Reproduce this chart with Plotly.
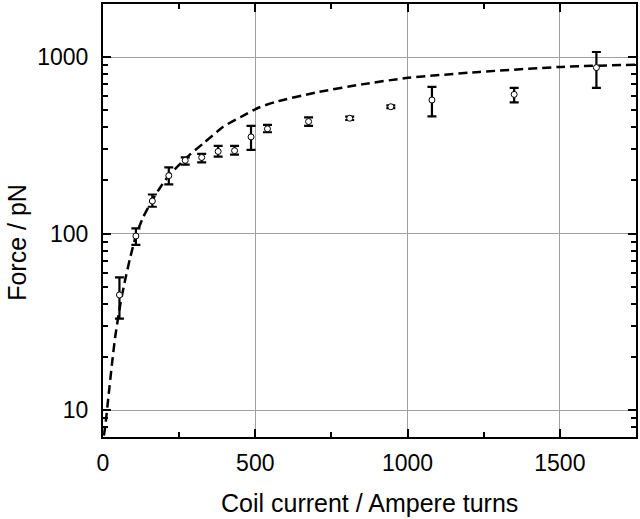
import plotly.graph_objects as go

# Measured data (coil current in ampere turns, force in pN)
current = [54, 108, 162, 216, 270, 324, 378, 432, 486, 540, 675, 810, 945, 1080, 1350, 1620]
force = [45, 97, 153, 213, 260, 270, 292, 295, 353, 392, 431, 450, 523, 571, 614, 871]
force_upper = [56.6, 107, 166.6, 237, 270, 283, 314, 314, 407, 413, 455, 460, 533, 678, 669, 1067]
force_lower = [33.0, 86.4, 142, 190, 246, 253, 273, 280, 298, 375, 407, 440, 513, 461, 553, 669]

# Model curve (dashed)
model_current = [3, 8, 18, 29, 40, 57, 73, 90, 108, 130, 162, 190, 216, 250, 285, 330, 395,
                 461, 510, 570, 700, 850, 1001, 1236, 1504, 1750]
model_force = [7.2, 8.3, 12, 18, 26, 40, 55, 74, 97, 122, 155, 185, 213, 245, 280, 325, 403,
               466, 516, 559, 630, 700, 762, 823, 879, 905]

x_ticks = [0, 500, 1000, 1500]
y_ticks = [10, 100, 1000]

err_plus = [u - f for u, f in zip(force_upper, force)]
err_minus = [f - l for f, l in zip(force, force_lower)]

fig = go.Figure()
fig.add_trace(go.Scatter(
    x=model_current, y=model_force, mode="lines",
    line=dict(color="black", width=2.5, dash="9px,5px", shape="spline", smoothing=0.6),
    showlegend=False, hoverinfo="skip",
))
fig.add_trace(go.Scatter(
    x=current, y=force, mode="markers",
    marker=dict(symbol="circle", size=6, color="white", line=dict(color="black", width=1)),
    error_y=dict(type="data", symmetric=False, array=err_plus, arrayminus=err_minus,
                 color="black", thickness=2.2, width=4.5),
    showlegend=False,
))

font_family = "Liberation Sans, Arial, sans-serif"

fig.update_layout(
    width=640, height=519,
    margin=dict(l=103, r=3, t=2, b=82),
    paper_bgcolor="white", plot_bgcolor="white",
    font=dict(family=font_family, color="black", size=23),
    xaxis=dict(
        range=[0, 1750], tickvals=x_ticks, ticktext=[str(v) for v in x_ticks],
        ticks="inside", ticklen=8, tickwidth=1.5, tickcolor="black",
        minor=dict(dtick=250, ticks="inside", ticklen=5, tickwidth=1.5, tickcolor="black", showgrid=False),
        showline=True, linecolor="black", linewidth=2, mirror="allticks",
        showgrid=True, gridcolor="#a0a0a0", gridwidth=1, zeroline=False,
        tickfont=dict(size=23), ticklabelstandoff=4,
    ),
    yaxis=dict(
        type="log", range=[0.849, 3.30], tickvals=y_ticks, ticktext=[str(v) for v in y_ticks],
        ticks="inside", ticklen=8, tickwidth=1.5, tickcolor="black",
        minor=dict(tickvals=[2, 3, 4, 5, 6, 7, 8, 9, 20, 30, 40, 50, 60, 70, 80, 90,
                             200, 300, 400, 500, 600, 700, 800, 900, 2000],
                   ticks="inside", ticklen=5, tickwidth=1.5, tickcolor="black", showgrid=False),
        showline=True, linecolor="black", linewidth=2, mirror="allticks",
        showgrid=True, gridcolor="#a0a0a0", gridwidth=1, zeroline=False,
        tickfont=dict(size=23), ticklabelstandoff=8,
    ),
    annotations=[
        dict(text="Coil current / Ampere turns", xref="paper", yref="paper",
             x=0.5, y=-0.152, xanchor="center", yanchor="middle", showarrow=False,
             font=dict(size=25, family=font_family, color="black")),
        dict(text="Force / pN", xref="paper", yref="paper",
             x=-0.162, y=0.45, xanchor="center", yanchor="middle", showarrow=False,
             textangle=-90, font=dict(size=25, family=font_family, color="black")),
    ],
)

fig.write_html("out.html", config={"displayModeBar": False},
               post_script="document.body.style.margin='0';document.body.style.overflow='hidden';")
